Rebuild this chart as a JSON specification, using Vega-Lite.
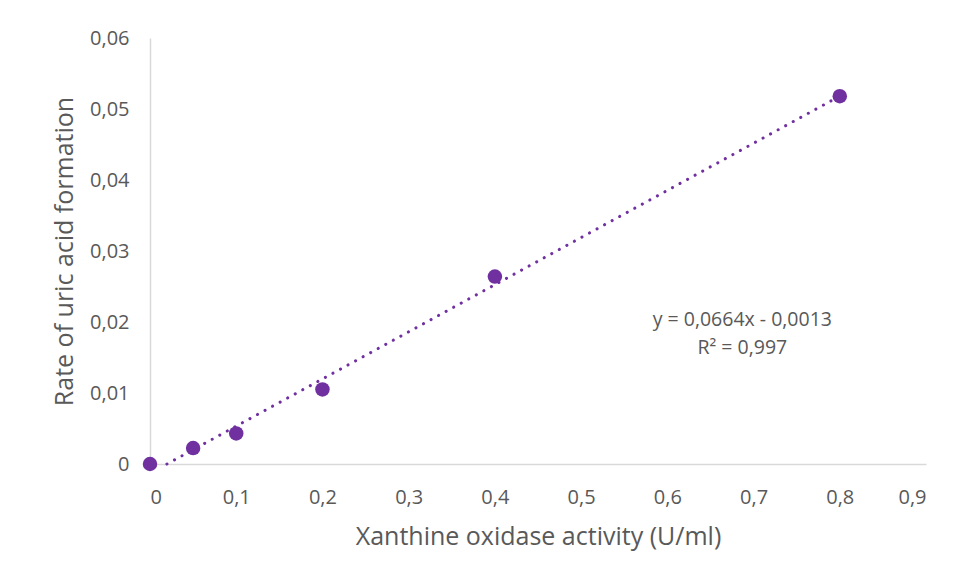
{
  "$schema": "https://vega.github.io/schema/vega-lite/v6.json",
  "width": 776,
  "height": 426,
  "autosize": "none",
  "padding": {"left": 150, "top": 38, "right": 46, "bottom": 115},
  "background": "white",
  "config": {
    "locale": {"number": {"decimal": ",", "thousands": ".", "grouping": [3], "currency": ["", " €"]}},
    "view": {"stroke": null},
    "font": "Open Sans"
  },
  "datasets": {
    "points": [
      {"activity": 0, "rate": 0},
      {"activity": 0.05, "rate": 0.00225},
      {"activity": 0.1, "rate": 0.0043},
      {"activity": 0.2, "rate": 0.0105},
      {"activity": 0.4, "rate": 0.0264},
      {"activity": 0.8, "rate": 0.0518}
    ],
    "trend": [
      {"activity": 0.0196, "rate": 0},
      {"activity": 0.8, "rate": 0.05182}
    ],
    "annot": [
      {"activity": 0.687, "rate": 0.0203, "label": "y = 0,0664x - 0,0013"},
      {"activity": 0.687, "rate": 0.0164, "label": "R² = 0,997"}
    ]
  },
  "layer": [
    {
      "data": {"name": "trend"},
      "mark": {"type": "line", "color": "#7030A0", "strokeWidth": 3, "strokeDash": [0.1, 8.5], "strokeCap": "round"},
      "encoding": {
        "x": {"field": "activity", "type": "quantitative"},
        "y": {"field": "rate", "type": "quantitative"}
      }
    },
    {
      "data": {"name": "points"},
      "mark": {"type": "circle", "color": "#7030A0", "opacity": 1, "size": 210},
      "encoding": {
        "x": {
          "field": "activity", "type": "quantitative",
          "scale": {"domain": [0, 0.9], "nice": false},
          "axis": {
            "title": "Xanthine oxidase activity (U/ml)",
            "values": [0, 0.1, 0.2, 0.3, 0.4, 0.5, 0.6, 0.7, 0.8, 0.9],
            "format": ".1~f",
            "grid": false, "ticks": false,
            "domainColor": "#d9d9d9", "domainWidth": 1.5,
            "labelFontSize": 20, "labelColor": "#595959", "labelPadding": 23,
            "titleFontSize": 25, "titleFontWeight": "normal", "titleColor": "#595959", "titlePadding": 17
          }
        },
        "y": {
          "field": "rate", "type": "quantitative",
          "scale": {"domain": [0, 0.06], "nice": false},
          "axis": {
            "title": "Rate of uric acid formation",
            "values": [0, 0.01, 0.02, 0.03, 0.04, 0.05, 0.06],
            "format": ".2~f",
            "grid": false, "ticks": false,
            "domainColor": "#d9d9d9", "domainWidth": 1.5,
            "labelFontSize": 20, "labelColor": "#595959", "labelPadding": 21,
            "titleFontSize": 25, "titleFontWeight": "normal", "titleColor": "#595959", "titlePadding": 12
          }
        }
      }
    },
    {
      "data": {"name": "annot"},
      "mark": {"type": "text", "fontSize": 19.5, "color": "#595959", "align": "center", "baseline": "middle"},
      "encoding": {
        "x": {"field": "activity", "type": "quantitative"},
        "y": {"field": "rate", "type": "quantitative"},
        "text": {"field": "label"}
      }
    }
  ]
}
